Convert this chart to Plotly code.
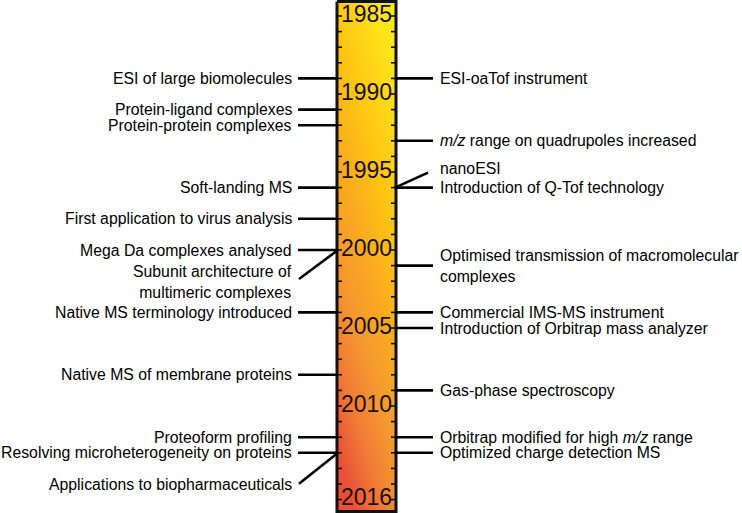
import base64
import plotly.graph_objects as go

# ---------------- data ----------------
year_labels = [1985, 1990, 1995, 2000, 2005, 2010, 2016]
tick_years = list(range(1985, 2017))

left_years = [1989, 1991, 1992, 1996, 1998, 2000, 2000, 2004, 2008, 2012, 2013, 2013]
left_labels = [
    "ESI of large biomolecules",
    "Protein-ligand complexes",
    "Protein-protein complexes",
    "Soft-landing MS",
    "First application to virus analysis",
    "Mega Da complexes analysed",
    "Subunit architecture of<br>multimeric complexes",
    "Native MS terminology introduced",
    "Native MS of membrane proteins",
    "Proteoform profiling",
    "Resolving microheterogeneity on proteins",
    "Applications to biopharmaceuticals",
]

right_years = [1989, 1993, 1996, 1996, 2001, 2004, 2005, 2009, 2012, 2013]
right_labels = [
    "ESI-oaTof instrument",
    "<i>m/z</i> range on quadrupoles increased",
    "nanoESI",
    "Introduction of Q-Tof technology",
    "Optimised transmission of macromolecular<br>complexes",
    "Commercial IMS-MS instrument",
    "Introduction of Orbitrap mass analyzer",
    "Gas-phase spectroscopy",
    "Orbitrap modified for high <i>m/z</i> range",
    "Optimized charge detection MS",
]

# ---------------- layout helpers (pixels / offsets) ----------------
W, H = 742, 513
PX_PER_YEAR = 15.6
Y1985_PX = 16.0


def px2yr(py):
    return 1985 + (py - Y1985_PX) / PX_PER_YEAR


y_top = px2yr(0)
y_bot = px2yr(H)

BAR_L, BAR_R = 337, 396
BAR_TOP, BAR_BOT = px2yr(1.5), px2yr(511.5)
YEAR_X = 366.5

# label displacement (pixels) for labels linked with a slanted connector
left_offsets = {6: (29, 32), 11: (31, 32)}     # index: (line end dy, text dy)
right_offsets = {2: (-15, -19)}

LINE_W = 2.6
FONT = "Liberation Sans, Arial, Helvetica, sans-serif"
TXT = 15.8

fig = go.Figure()

# gradient bar as an svg image
svg = (
    "<svg xmlns='http://www.w3.org/2000/svg' width='60' height='510' preserveAspectRatio='none'>"
    "<defs><linearGradient id='g' x1='0.7' y1='0' x2='0.3' y2='1'>"
    "<stop offset='0' stop-color='#FFE61C'/>"
    "<stop offset='0.28' stop-color='#FEC612'/>"
    "<stop offset='0.5' stop-color='#F9AA20'/>"
    "<stop offset='0.68' stop-color='#F5972F'/>"
    "<stop offset='0.84' stop-color='#F07A36'/>"
    "<stop offset='1' stop-color='#E95038'/>"
    "</linearGradient></defs>"
    "<rect width='60' height='510' fill='url(#g)'/></svg>"
)
src = "data:image/svg+xml;base64," + base64.b64encode(svg.encode()).decode()
fig.add_layout_image(
    source=src, xref="x", yref="y", x=BAR_L, y=BAR_TOP,
    sizex=BAR_R - BAR_L, sizey=BAR_BOT - BAR_TOP,
    xanchor="left", yanchor="top", sizing="stretch", layer="below",
)

# bar border
fig.add_trace(go.Scatter(
    x=[BAR_L, BAR_R, BAR_R, BAR_L, BAR_L],
    y=[BAR_TOP, BAR_TOP, BAR_BOT, BAR_BOT, BAR_TOP],
    mode="lines", line=dict(color="#111", width=3), hoverinfo="skip",
))

# year ticks
tx, ty = [], []
for yr in tick_years:
    tx += [BAR_L, BAR_L + 5, None, BAR_R - 5, BAR_R, None]
    ty += [yr, yr, None, yr, yr, None]
fig.add_trace(go.Scatter(x=tx, y=ty, mode="lines",
                         line=dict(color="#111", width=1.6), hoverinfo="skip"))

# connectors
lx, ly = [], []
annotations = []
for i, (yr, lab) in enumerate(zip(left_years, left_labels)):
    if i in left_offsets:
        dl, dt = left_offsets[i]
        yl = px2yr(Y1985_PX + (yr - 1985) * PX_PER_YEAR + dl)
        yt = px2yr(Y1985_PX + (yr - 1985) * PX_PER_YEAR + dt)
        lx += [BAR_L + 1, 299, None]
        ly += [yr, yl, None]
    else:
        yt = yr
        lx += [298, BAR_L + 1, None]
        ly += [yr, yr, None]
    annotations.append(dict(x=294, y=yt, xref="x", yref="y", text=lab,
                            showarrow=False, xanchor="right", yanchor="middle",
                            align="right", font=dict(size=TXT, color="#000", family=FONT)))

for i, (yr, lab) in enumerate(zip(right_years, right_labels)):
    if i in right_offsets:
        dl, dt = right_offsets[i]
        yl = px2yr(Y1985_PX + (yr - 1985) * PX_PER_YEAR + dl)
        yt = px2yr(Y1985_PX + (yr - 1985) * PX_PER_YEAR + dt)
        lx += [BAR_R - 1, 428, None]
        ly += [yr, yl, None]
    else:
        yt = yr
        lx += [BAR_R - 1, 433, None]
        ly += [yr, yr, None]
    annotations.append(dict(x=438, y=yt, xref="x", yref="y", text=lab,
                            showarrow=False, xanchor="left", yanchor="middle",
                            align="left", font=dict(size=TXT, color="#000", family=FONT)))

fig.add_trace(go.Scatter(x=lx, y=ly, mode="lines",
                         line=dict(color="#000", width=LINE_W), hoverinfo="skip"))

# year labels
fig.add_trace(go.Scatter(
    x=[YEAR_X] * len(year_labels), y=year_labels, mode="text",
    text=[str(y) for y in year_labels], textposition="middle center",
    textfont=dict(size=23, color="#1a1208", family=FONT), hoverinfo="skip",
))

fig.update_layout(
    width=W, height=H, margin=dict(l=0, r=0, t=0, b=0),
    paper_bgcolor="white", plot_bgcolor="white", showlegend=False,
    annotations=annotations,
    xaxis=dict(range=[0, W], visible=False, fixedrange=True),
    yaxis=dict(range=[y_bot, y_top], visible=False, fixedrange=True),
)

fig.write_html(
    "out.html",
    config={"displayModeBar": False},
    post_script="document.body.style.margin='0';document.body.style.overflow='hidden';",
)
